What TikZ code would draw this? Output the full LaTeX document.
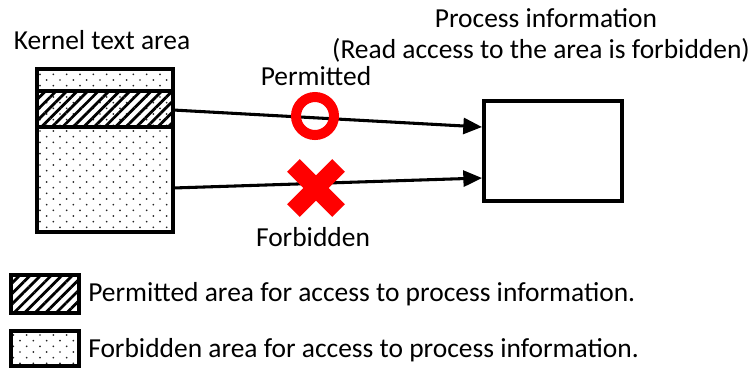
\documentclass[tikz,border=0pt]{standalone}
\usepackage{fontspec}
\setmainfont{Carlito}
\usetikzlibrary{arrows.meta,patterns,patterns.meta}

% staggered dots for the forbidden part
\pgfdeclarepatternformonly{sparsedots}{\pgfqpoint{-1pt}{-1pt}}{\pgfqpoint{11pt}{9.5pt}}{\pgfqpoint{10pt}{8.5pt}}{%
  \pgfpathcircle{\pgfqpoint{0pt}{0pt}}{0.7pt}%
  \pgfpathcircle{\pgfqpoint{5pt}{4.25pt}}{0.7pt}%
  \pgfusepath{fill}}

\tikzset{
  area/.style={draw,line width=3pt},
  forbid/.style={area,pattern=sparsedots,pattern color=black!85},
  permit/.style={area,pattern={Lines[angle=45,distance=5.6pt,line width=2.1pt]}},
  access/.style={line width=2.3pt,-{Triangle[length=14pt,width=12pt]}},
  label/.style={inner sep=0pt,font=\fontsize{20.6}{24}\selectfont},
}

\begin{document}
\begin{tikzpicture}[x=0.75pt,y=-0.75pt,line join=miter]
  \useasboundingbox (0,0) rectangle (756,369);

  % kernel text area
  \draw[forbid] (37,69) rectangle (173,232);
  \draw[permit] (37,91) rectangle (173,127);
  \node[label] (kernel) at (102,40) {Kernel text area};
  \coordinate (kp) at (173,110);
  \coordinate (kf) at (173,188);

  % process information
  \node[draw,line width=3pt,minimum width=138*0.75pt,minimum height=100*0.75pt,inner sep=0pt] (proc) at (553,151) {};
  \node[label] (title) at (546,18) {Process information};
  \node[label] (note) at (541,50) {(Read access to the area is forbidden)};
  \coordinate (pp) at ([yshift=24*0.75pt]proc.west);
  \coordinate (pf) at ([yshift=-27*0.75pt]proc.west);

  \draw[access] (kp) -- (pp);
  \draw[access] (kf) -- (pf);

  % marks on the arrows
  \draw[red,line width=7.5pt] (315,116) circle (19);
  \node[label] (ok) at (316,76) {Permitted};
  \draw[red,line width=13.5pt] (316,188) ++(-22.6,-22.6) -- ++(45.2,45.2)
                               (316,188) ++(22.6,-22.6) -- ++(-45.2,45.2);
  \node[label] (ng) at (313,237) {Forbidden};

  % legend
  \draw[permit] (11,275) rectangle (79,313);
  \node[label,anchor=west] (lp) at (88,294) {Permitted area for access to process information.};
  \draw[forbid] (11,331) rectangle (79,366);
  \node[label,anchor=west] (lf) at (88,350) {Forbidden area for access to process information.};
\end{tikzpicture}
\end{document}
